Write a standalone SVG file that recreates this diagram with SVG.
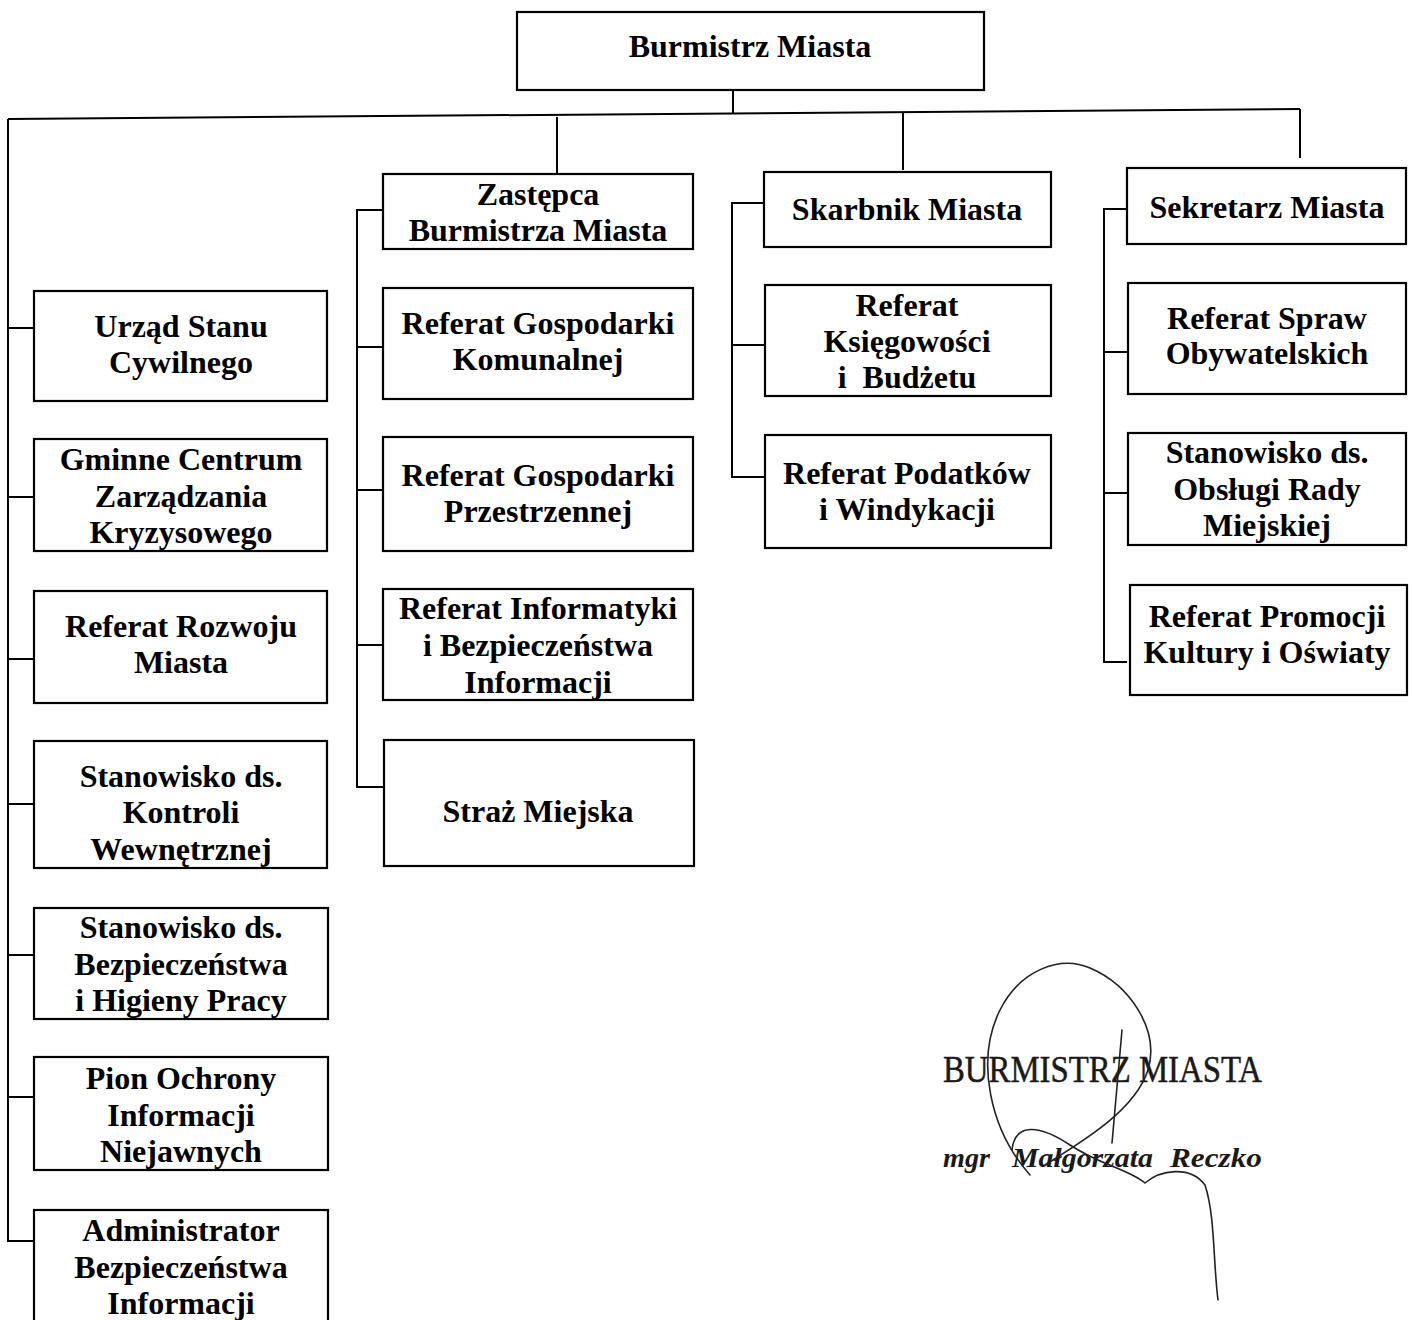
<svg xmlns="http://www.w3.org/2000/svg" width="1413" height="1320" viewBox="0 0 1413 1320">
<style>
.box{fill:#fff;stroke:#000;stroke-width:2.2}
.t{font-family:"Liberation Serif","Times New Roman",serif;font-weight:bold;font-size:32px;fill:#000;text-anchor:middle}
.ln{fill:none;stroke:#000;stroke-width:2}
.sig{fill:none;stroke:#222;stroke-width:1.6;stroke-linecap:round}
.st{font-family:"Liberation Serif","Times New Roman",serif;fill:#1a1a1a;stroke:#1a1a1a;stroke-width:0.5}
.si{font-family:"Liberation Serif","Times New Roman",serif;font-style:italic;font-weight:bold;font-size:28px;fill:#1a1a1a}
</style>
<rect width="1413" height="1320" fill="#fff"/>
<g id="connectors">
<path class="ln" d="M733 90 V113"/>
<path class="ln" d="M8 119 L1300 109"/>
<path class="ln" d="M557 117 V174"/>
<path class="ln" d="M903 112 V170"/>
<path class="ln" d="M1300 109 V158"/>
<path class="ln" d="M8 119 V1241 H34"/>
<path class="ln" d="M8 328 H34 M8 497 H34 M8 659 H34 M8 804 H34 M8 955 H34 M8 1097 H34"/>
<path class="ln" d="M383 210 H357 V787 H383 M357 347 H383 M357 490 H383 M357 645 H383"/>
<path class="ln" d="M764 203 H732 V477 H764 M732 345 H764"/>
<path class="ln" d="M1127 209 H1104 V662 H1127 M1104 352 H1127 M1104 493 H1127"/>
</g>
<g id="burmistrz"><rect class="box" x="517" y="12" width="467" height="78"/><text class="t" x="750" y="57">Burmistrz Miasta</text></g>
<g id="usc"><rect class="box" x="34" y="291" width="293" height="110"/><text class="t" x="181" y="337">Urząd Stanu</text><text class="t" x="181" y="373">Cywilnego</text></g>
<g id="gczk"><rect class="box" x="34" y="439" width="293" height="112"/><text class="t" x="181" y="470">Gminne Centrum</text><text class="t" x="181" y="507">Zarządzania</text><text class="t" x="181" y="543">Kryzysowego</text></g>
<g id="rrm"><rect class="box" x="34" y="591" width="293" height="112"/><text class="t" x="181" y="637">Referat Rozwoju</text><text class="t" x="181" y="673">Miasta</text></g>
<g id="skw"><rect class="box" x="34" y="741" width="293" height="127"/><text class="t" x="181" y="787">Stanowisko ds.</text><text class="t" x="181" y="823">Kontroli</text><text class="t" x="181" y="860">Wewnętrznej</text></g>
<g id="bhp"><rect class="box" x="34" y="908" width="294" height="111"/><text class="t" x="181" y="938">Stanowisko ds.</text><text class="t" x="181" y="975">Bezpieczeństwa</text><text class="t" x="181" y="1011">i Higieny Pracy</text></g>
<g id="poin"><rect class="box" x="34" y="1057" width="294" height="113"/><text class="t" x="181" y="1089">Pion Ochrony</text><text class="t" x="181" y="1126">Informacji</text><text class="t" x="181" y="1162">Niejawnych</text></g>
<g id="abi"><rect class="box" x="34" y="1210" width="294" height="140"/><text class="t" x="181" y="1241">Administrator</text><text class="t" x="181" y="1278">Bezpieczeństwa</text><text class="t" x="181" y="1314">Informacji</text></g>
<g id="zastepca"><rect class="box" x="383" y="174" width="310" height="75"/><text class="t" x="538" y="205">Zastępca</text><text class="t" x="538" y="241">Burmistrza Miasta</text></g>
<g id="rgk"><rect class="box" x="383" y="288" width="310" height="111"/><text class="t" x="538" y="334">Referat Gospodarki</text><text class="t" x="538" y="370">Komunalnej</text></g>
<g id="rgp"><rect class="box" x="383" y="437" width="310" height="114"/><text class="t" x="538" y="486">Referat Gospodarki</text><text class="t" x="538" y="522">Przestrzennej</text></g>
<g id="ribi"><rect class="box" x="383" y="589" width="310" height="111"/><text class="t" x="538" y="619">Referat Informatyki</text><text class="t" x="538" y="656">i Bezpieczeństwa</text><text class="t" x="538" y="693">Informacji</text></g>
<g id="sm"><rect class="box" x="384" y="740" width="310" height="126"/><text class="t" x="538" y="822">Straż Miejska</text></g>
<g id="skarbnik"><rect class="box" x="764" y="172" width="287" height="75"/><text class="t" x="907" y="220">Skarbnik Miasta</text></g>
<g id="rkb"><rect class="box" x="765" y="285" width="286" height="111"/><text class="t" x="907" y="316">Referat</text><text class="t" x="907" y="352">Księgowości</text><text class="t" x="907" y="388" xml:space="preserve">i  Budżetu</text></g>
<g id="rpw"><rect class="box" x="765" y="435" width="286" height="113"/><text class="t" x="907" y="484">Referat Podatków</text><text class="t" x="907" y="520">i Windykacji</text></g>
<g id="sekretarz"><rect class="box" x="1127" y="168" width="279" height="76"/><text class="t" x="1267" y="218">Sekretarz Miasta</text></g>
<g id="rso"><rect class="box" x="1128" y="283" width="278" height="111"/><text class="t" x="1267" y="329">Referat Spraw</text><text class="t" x="1267" y="364">Obywatelskich</text></g>
<g id="sorm"><rect class="box" x="1128" y="433" width="278" height="112"/><text class="t" x="1267" y="463">Stanowisko ds.</text><text class="t" x="1267" y="500">Obsługi Rady</text><text class="t" x="1267" y="536">Miejskiej</text></g>
<g id="rpko"><rect class="box" x="1130" y="585" width="277" height="110"/><text class="t" x="1267" y="627">Referat Promocji</text><text class="t" x="1267" y="663">Kultury i Oświaty</text></g>
<g id="signature">
<text class="st" x="943" y="1082" font-size="37" textLength="319" lengthAdjust="spacingAndGlyphs">BURMISTRZ MIASTA</text>
<text class="si" x="943" y="1167" textLength="47" lengthAdjust="spacingAndGlyphs">mgr</text>
<text class="si" x="1012" y="1167" textLength="141" lengthAdjust="spacingAndGlyphs">Małgorzata</text>
<text class="si" x="1170" y="1167" textLength="92" lengthAdjust="spacingAndGlyphs">Reczko</text>
<path class="sig" d="M1030 1175 C990 1130 975 1060 1000 1010 C1020 970 1060 955 1090 968 C1130 985 1160 1030 1148 1070 C1135 1110 1085 1140 1045 1165"/>
<path class="sig" d="M1012 1150 C1015 1122 1040 1125 1070 1145 C1100 1165 1130 1170 1145 1183 C1160 1170 1190 1165 1205 1185 C1215 1215 1213 1260 1218 1300"/>
<path class="sig" d="M1122 1030 L1112 1143"/>
</g>
</svg>
